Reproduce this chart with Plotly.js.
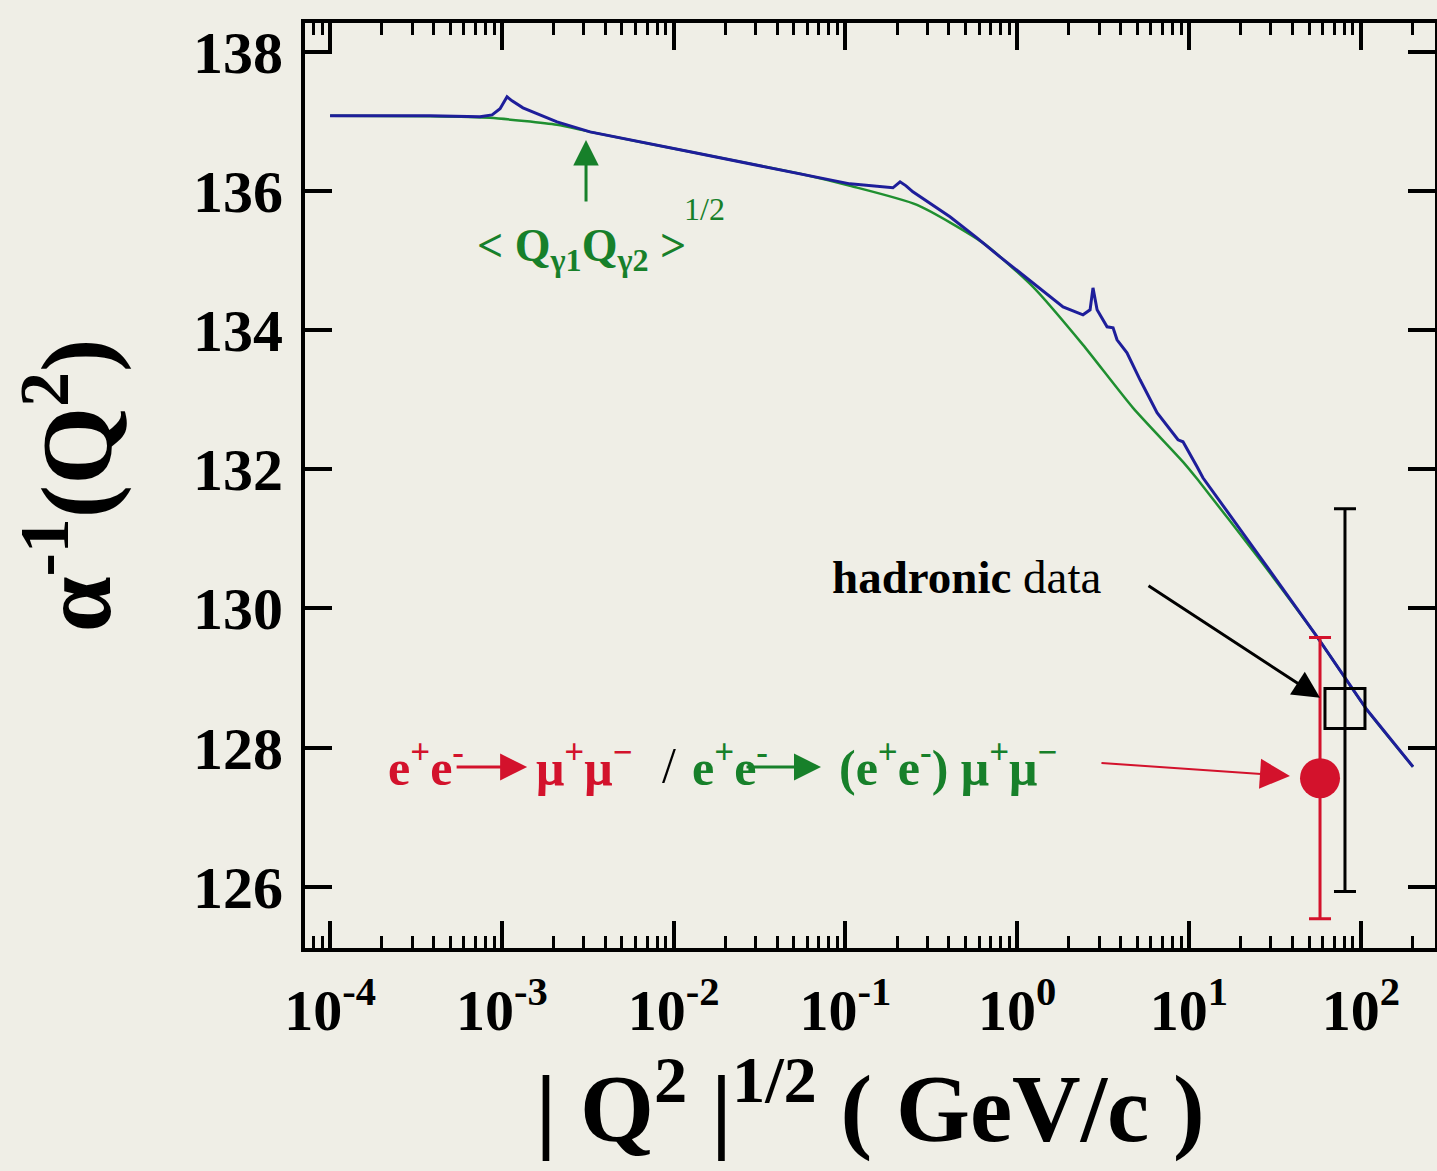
<!DOCTYPE html>
<html>
<head>
<meta charset="utf-8">
<script src="https://cdn.plot.ly/plotly-3.0.1.min.js"></script>
<style>html,body{margin:0;padding:0;background:#efeee6;}#chart{width:1437px;height:1171px;}</style>
</head>
<body>
<div id="chart"></div>
<script>
// Blue curve: full running alpha^-1 with hadronic resonances
const blueQ = [1.0e-4, 3.82e-4, 7.46e-4, 8.77e-4, 9.76e-4, 1.072e-3, 1.146e-3, 1.327e-3, 2.094e-3, 3.26e-3,
  1.245e-2, 5.45e-2, 0.1064, 0.189, 0.208, 0.2254, 0.247, 0.406, 0.583, 0.794,
  1.236, 1.849, 2.415, 2.655, 2.761, 2.917, 3.334, 3.614, 3.811, 4.355,
  5.188, 6.516, 8.630, 9.226, 11.14, 12.05, 25.88, 55.59, 108.6, 201.4];
const blueA = [137.076, 137.076, 137.062, 137.09, 137.177, 137.349, 137.292, 137.191, 136.990, 136.846,
  136.559, 136.243, 136.099, 136.042, 136.128, 136.07, 135.984, 135.625, 135.323, 135.050,
  134.677, 134.332, 134.217, 134.289, 134.605, 134.289, 134.045, 134.030, 133.858, 133.672,
  133.284, 132.810, 132.422, 132.393, 132.034, 131.876, 130.741, 129.592, 128.543, 127.724];
// Green curve: smooth (space-like) running
const greenQ = [1.0e-4, 3.82e-4, 8.53e-4, 2.094e-3, 3.26e-3, 1.245e-2, 5.45e-2, 0.1064, 0.261, 0.632,
  1.236, 2.415, 4.72, 9.226, 11.14, 25.88, 55.59, 108.6, 201.4];
const greenA = [137.076, 137.069, 137.047, 136.947, 136.846, 136.559, 136.243, 136.071, 135.797, 135.251,
  134.619, 133.786, 132.881, 132.105, 131.861, 130.697, 129.592, 128.543, 127.724];
// Measurements
const muQ = [57.9], muA = [127.56], muErr = [2.02];
const hadQ = [80.9], hadA = [128.56], hadErrPlus = [2.87], hadErrMinus = [2.63];
// Axis ticks
const xTickVals = [1e-4, 1e-3, 1e-2, 1e-1, 1, 10, 100];
const xTickText = ['10<sup>-4</sup>', '10<sup>-3</sup>', '10<sup>-2</sup>', '10<sup>-1</sup>', '10<sup>0</sup>', '10<sup>1</sup>', '10<sup>2</sup>'];
const yTickVals = [126, 128, 130, 132, 134, 136, 138];

const SERIF = 'Liberation Serif, Times New Roman, serif';
const RED = '#d3122c', GREEN = '#17802a', BLUE = '#1e1e9a', GLINE = '#1f8f30';
const L = v => Math.log10(v);

const traces = [
  {x: greenQ, y: greenA, mode: 'lines', line: {color: GLINE, width: 2.5, shape: 'spline', smoothing: 0.6}, hoverinfo: 'skip', showlegend: false},
  {x: blueQ, y: blueA, mode: 'lines', line: {color: BLUE, width: 3}, showlegend: false},
  {x: muQ, y: muA, mode: 'markers', marker: {symbol: 'circle', size: 40, color: RED},
   error_y: {type: 'data', array: muErr, color: RED, thickness: 3, width: 11}, showlegend: false},
  {x: hadQ, y: hadA, mode: 'markers', marker: {symbol: 'square-open', size: 40, color: 'black', line: {width: 3, color: 'black'}},
   error_y: {type: 'data', symmetric: false, array: hadErrPlus, arrayminus: hadErrMinus, color: 'black', thickness: 3, width: 11}, showlegend: false}
];

const txt = (x, y, text, color, size, extra) => Object.assign({
  x: L(x), y: y, xref: 'x', yref: 'y', text: text, showarrow: false, xanchor: 'left', yanchor: 'middle',
  font: {family: SERIF, size: size, color: color, weight: 'bold'}
}, extra || {});
const arr = (x, y, ax, ay, color, w, s) => ({
  x: L(x), y: y, xref: 'x', yref: 'y', ax: ax, ay: ay, text: '', showarrow: true,
  arrowhead: 2, arrowwidth: w, arrowsize: s, arrowcolor: color
});

const annotations = [
  txt(0.0813, 130.45, '<b>hadronic</b> data', 'black', 47, {font: {family: SERIF, size: 47, color: 'black', weight: 'normal'}}),
  arr(57.9, 128.714, -173, -113, 'black', 3, 1.8),
  arr(38.7, 127.593, -190, -13, RED, 2, 3),
  txt(2.12e-4, 127.75, 'e<sup>+</sup>e<sup>-</sup>', RED, 50),
  arr(1.403e-3, 127.72, -72, 0, RED, 3, 1.8),
  txt(1.539e-3, 127.75, 'μ<sup>+</sup>μ<sup>−</sup>', RED, 50),
  txt(8.34e-3, 127.75, '/', 'black', 50, {font: {family: SERIF, size: 50, color: 'black', weight: 'normal'}}),
  txt(1.246e-2, 127.75, 'e<sup>+</sup>e<sup>-</sup>', GREEN, 50),
  arr(0.0721, 127.72, -76, 0, GREEN, 3, 1.8),
  txt(0.0893, 127.75, '(e<sup>+</sup>e<sup>-</sup>) μ<sup>+</sup>μ<sup>−</sup>', GREEN, 50),
  arr(3.09e-3, 136.73, 0, 63, GREEN, 3, 1.7),
  txt(6.98e-4, 135.16, '< Q<sub>γ1</sub>Q<sub>γ2</sub> >', GREEN, 46),
  txt(1.12e-2, 135.74, '1/2', GREEN, 32, {font: {family: SERIF, size: 32, color: GREEN, weight: 'normal'}})
];

const layout = {
  width: 1437, height: 1171,
  margin: {l: 305, r: 2, t: 23, b: 223},
  paper_bgcolor: '#efeee6', plot_bgcolor: '#efeee6',
  showlegend: false,
  xaxis: {
    type: 'log', range: [-4.146, 2.432], tickmode: 'array', tickvals: xTickVals, ticktext: xTickText,
    ticks: 'inside', ticklen: 27, tickwidth: 4, tickcolor: 'black',
    showline: true, linewidth: 4, linecolor: 'black', mirror: 'ticks', showgrid: false, zeroline: false,
    minor: {ticks: 'inside', ticklen: 12, tickwidth: 3, tickcolor: 'black', dtick: 'D1', showgrid: false},
    tickfont: {family: SERIF, size: 58, color: 'black', weight: 'bold'},
    ticklabelstandoff: 8,
    title: {text: '| Q<sup>2</sup> |<sup>1/2</sup> ( GeV/c )', font: {family: SERIF, size: 95, color: 'black', weight: 'bold'}, standoff: 32}
  },
  yaxis: {
    range: [125.12, 138.41], tickmode: 'array', tickvals: yTickVals,
    ticks: 'inside', ticklen: 27, tickwidth: 4, tickcolor: 'black',
    showline: true, linewidth: 4, linecolor: 'black', mirror: 'ticks', showgrid: false, zeroline: false,
    tickfont: {family: SERIF, size: 60, color: 'black', weight: 'bold'},
    ticklabelstandoff: 6,
    title: {text: 'α<sup>-1</sup>(Q<sup>2</sup>)', font: {family: SERIF, size: 100, color: 'black', weight: 'bold'}, standoff: 50}
  },
  annotations: annotations
};

Plotly.newPlot('chart', traces, layout, {displayModeBar: false, staticPlot: true});
</script>
</body>
</html>
